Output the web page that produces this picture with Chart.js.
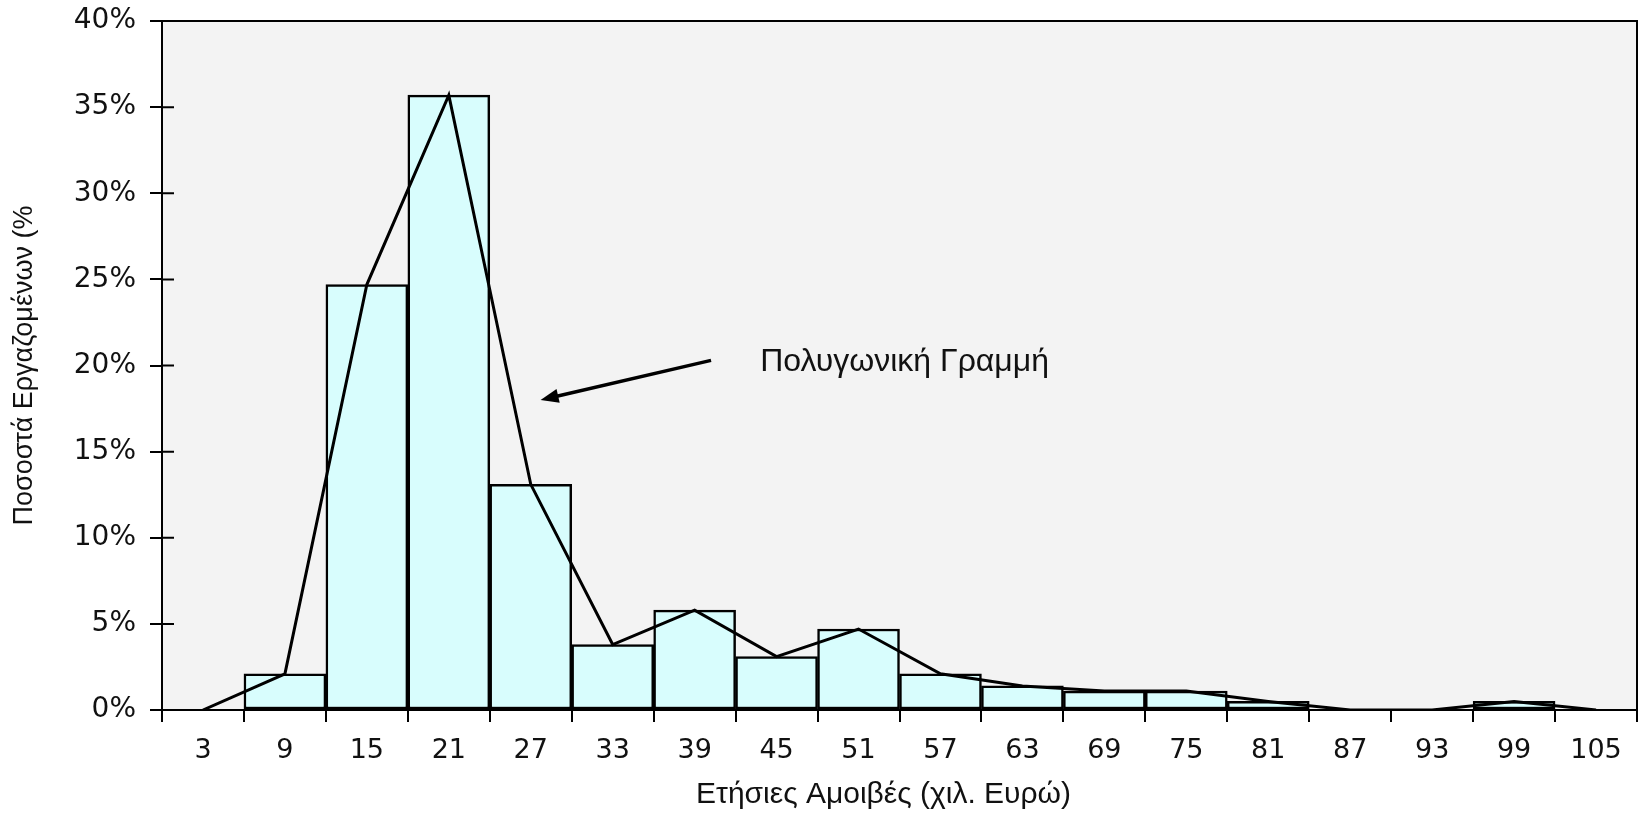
<!DOCTYPE html>
<html>
<head>
<meta charset="utf-8">
<script src="https://cdn.jsdelivr.net/npm/chart.js@4.4.0/dist/chart.umd.min.js"></script>
<style>
  html, body { margin: 0; padding: 0; background: #fff; }
  #wrap { width: 1639px; height: 822px; }
</style>
</head>
<body>
<div id="wrap"><canvas id="myChart"></canvas></div>
<script>
// bins (thousand euro), share of employees in %
const incomeBins = ["3", "9", "15", "21", "27", "33", "39", "45", "51", "57", "63", "69", "75", "81", "87", "93", "99", "105"]
const employeeShare = [0, 2.1, 24.7, 35.7, 13.1, 3.8, 5.8, 3.1, 4.7, 2.1, 1.4, 1.1, 1.1, 0.5, 0, 0, 0.5, 0]
const yTickValues = [0, 5, 10, 15, 20, 25, 30, 35, 40]

const xTitle = "Ετήσιες Αμοιβές (χιλ. Ευρώ)"
const yTitle = "Ποσοστά Εργαζομένων (%"
const noteText = "Πολυγωνική Γραμμή"
// annotation anchors in data units (category index, percent)
const noteAt = { x: 6.8, y: 20.2 }
const arrowFrom = { x: 6.2, y: 20.3 }
const arrowTo = { x: 4.12, y: 18.0 }

const FONT = "'Liberation Sans', Arial, Helvetica, sans-serif"
const TICK_FONT = "'DejaVu Sans', Verdana, sans-serif"

const plotDecor = {
  id: "plotDecor",
  beforeDraw(chart) {
    const { ctx, chartArea: a } = chart
    ctx.save()
    ctx.fillStyle = "#f3f3f3"
    ctx.fillRect(a.left, a.top, a.right - a.left, a.bottom - a.top)
    ctx.restore()
  },
  afterDraw(chart) {
    const { ctx, chartArea: a, scales } = chart
    ctx.save()
    ctx.strokeStyle = "#000"
    ctx.lineWidth = 2
    // top and right frame
    ctx.beginPath()
    ctx.moveTo(a.left, a.top)
    ctx.lineTo(a.right, a.top)
    ctx.lineTo(a.right, a.bottom)
    ctx.stroke()
    // inner half of y ticks
    ctx.beginPath()
    yTickValues.forEach(v => {
      const y = scales.y.getPixelForValue(v)
      ctx.moveTo(a.left, y)
      ctx.lineTo(a.left + 12, y)
    })
    ctx.stroke()

    // arrow + label
    const x0 = scales.x.getPixelForValue(arrowFrom.x), y0 = scales.y.getPixelForValue(arrowFrom.y)
    const x1 = scales.x.getPixelForValue(arrowTo.x), y1 = scales.y.getPixelForValue(arrowTo.y)
    const ang = Math.atan2(y1 - y0, x1 - x0)
    ctx.lineWidth = 3.5
    ctx.beginPath()
    ctx.moveTo(x0, y0)
    ctx.lineTo(x1 - 10 * Math.cos(ang), y1 - 10 * Math.sin(ang))
    ctx.stroke()
    ctx.fillStyle = "#000"
    ctx.beginPath()
    ctx.moveTo(x1, y1)
    ctx.lineTo(x1 - 18 * Math.cos(ang) + 7 * Math.sin(ang), y1 - 18 * Math.sin(ang) - 7 * Math.cos(ang))
    ctx.lineTo(x1 - 18 * Math.cos(ang) - 7 * Math.sin(ang), y1 - 18 * Math.sin(ang) + 7 * Math.cos(ang))
    ctx.closePath()
    ctx.fill()

    ctx.fillStyle = "#111"
    ctx.textBaseline = "middle"
    ctx.font = "32px " + FONT
    ctx.fillText(noteText, scales.x.getPixelForValue(noteAt.x), scales.y.getPixelForValue(noteAt.y))

    // x axis title, sits a little left of the plot centre in the original
    ctx.font = "30px " + FONT
    ctx.textAlign = "center"
    ctx.fillText(xTitle, (a.left + a.right) / 2 - 16, 795)
    ctx.restore()
  },
}

const ctx = document.getElementById("myChart").getContext("2d")
let myChart = new Chart(ctx, {
  data: {
    labels: incomeBins,
    datasets: [
      {
        type: "line",
        data: employeeShare,
        borderColor: "#000",
        borderWidth: 3,
        pointRadius: 0,
        tension: 0,
        order: 0,
      },
      {
        type: "bar",
        data: employeeShare,
        backgroundColor: "#d8fdfd",
        borderColor: "#000",
        borderWidth: 2.5,
        borderSkipped: false,
        barPercentage: 1,
        categoryPercentage: 1,
        order: 1,
      },
    ],
  },
  options: {
    responsive: true,
    maintainAspectRatio: false,
    animation: false,
    layout: { padding: { top: 21, right: 2, left: 0, bottom: 0 } },
    scales: {
      x: {
        offset: true,
        grid: { offset: true, drawOnChartArea: false, drawTicks: true, tickLength: 12, color: "#000", lineWidth: 2 },
        border: { color: "#000", width: 2 },
        ticks: { color: "#111", font: { family: TICK_FONT, size: 27 }, padding: 13, maxRotation: 0 },
        afterFit: s => { s.height = 112 },
      },
      y: {
        min: 0,
        max: 40,
        afterBuildTicks: s => { s.ticks = yTickValues.map(v => ({ value: v })) },
        grid: { drawOnChartArea: false, drawTicks: true, tickLength: 12, color: "#000", lineWidth: 2 },
        border: { color: "#000", width: 2 },
        ticks: { color: "#111", font: { family: TICK_FONT, size: 28 }, padding: 14, callback: v => v + "%" },
        title: { display: true, text: yTitle, color: "#111", font: { family: FONT, size: 27 }, padding: { top: 8 } },
        afterFit: s => {
          s.width = 162
          s.paddingTop = 0
          s.paddingBottom = 0
        },
      },
    },
    plugins: {
      legend: { display: false },
      tooltip: { enabled: false },
    },
  },
  plugins: [plotDecor],
})
</script>
</body>
</html>
